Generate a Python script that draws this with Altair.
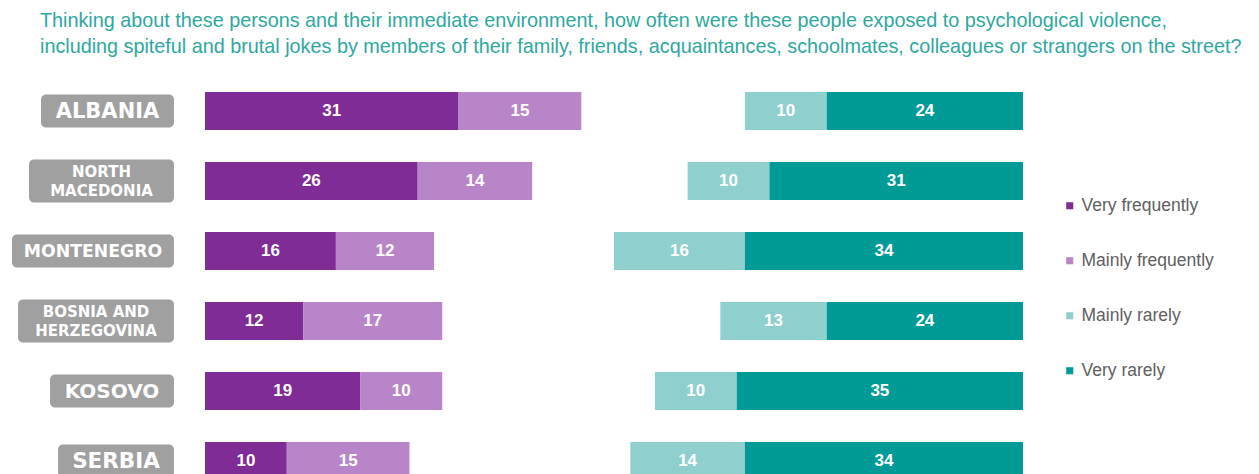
import altair as alt
import pandas as pd

# Survey answers (%) per country
countries = ["ALBANIA", "NORTH MACEDONIA", "MONTENEGRO",
             "BOSNIA AND HERZEGOVINA", "KOSOVO", "SERBIA"]
country_labels = ["ALBANIA", "NORTH\nMACEDONIA", "MONTENEGRO",
                  "BOSNIA AND\nHERZEGOVINA", "KOSOVO", "SERBIA"]
very_frequently = [31, 26, 16, 12, 19, 10]
mainly_frequently = [15, 14, 12, 17, 10, 15]
mainly_rarely = [10, 10, 16, 13, 10, 14]
very_rarely = [24, 31, 34, 24, 35, 34]

categories = ["Very frequently", "Mainly frequently", "Mainly rarely", "Very rarely"]
palette = ["#7f2c96", "#b886c8", "#8fd0cf", "#009b97"]

title_text = ("Thinking about these persons and their immediate environment, how often were these people "
              "exposed to psychological violence,\n"
              "including spiteful and brutal jokes by members of their family, friends, acquaintances, "
              "schoolmates, colleagues or strangers on the street?")

# Label badge styling (pixels)
badge_left = [41, 29, 12, 18, 50, 58]
badge_right = 174
badge_font = [21, 15, 17.3, 15, 20, 21.5]

FONT = "Liberation Sans"
WIDE = "DejaVu Sans"

# Frequent answers grow from the left edge, rare answers end at the right edge (0..100 axis)
rows = []
for i, c in enumerate(countries):
    vf, mf = very_frequently[i], mainly_frequently[i]
    mr, vr = mainly_rarely[i], very_rarely[i]
    rows.append(dict(country=c, category=categories[0], value=vf, start=0, end=vf))
    rows.append(dict(country=c, category=categories[1], value=mf, start=vf, end=vf + mf))
    rows.append(dict(country=c, category=categories[2], value=mr, start=100 - vr - mr, end=100 - vr))
    rows.append(dict(country=c, category=categories[3], value=vr, start=100 - vr, end=100))
seg = pd.DataFrame(rows)
seg["mid"] = (seg["start"] + seg["end"]) / 2

badges = pd.DataFrame({
    "country": countries,
    "label": country_labels,
    "x0": badge_left,
    "x1": [badge_right] * len(countries),
    "fs": badge_font,
    "two_line": ["\n" in s for s in country_labels],
})
badges["xm"] = (badges["x0"] + badges["x1"]) / 2

x_scale = alt.Scale(domain=[0, 100], range=[205, 1023])
y_enc = alt.Y("country:N", sort=countries, axis=None,
              scale=alt.Scale(range=[76, 496], paddingInner=0.46, paddingOuter=0.23))

base = alt.Chart(seg)

bars = base.mark_bar(cornerRadius=0).encode(
    x=alt.X("start:Q", scale=x_scale, axis=None),
    x2="end:Q",
    y=y_enc,
    color=alt.Color("category:N", sort=categories,
                    scale=alt.Scale(domain=categories, range=palette),
                    legend=alt.Legend(title=None, orient="none", legendX=1061, legendY=197,
                                      symbolType="square", symbolSize=50, symbolStrokeWidth=0,
                                      labelFontSize=17.5, labelFont=FONT, labelColor="#606060",
                                      rowPadding=36, labelOffset=3, labelLimit=300)),
)

values = base.mark_text(font=FONT, fontWeight="bold", fontSize=17, color="white",
                        baseline="middle").encode(
    x=alt.X("mid:Q", scale=x_scale, axis=None),
    y=y_enc,
    text="value:Q",
)

badge_base = alt.Chart(badges)
one_line = badge_base.transform_filter("!datum.two_line")
two_line = badge_base.transform_filter("datum.two_line")

badge_one = one_line.mark_bar(height=33, cornerRadius=5, color="#a0a0a0").encode(
    x=alt.X("x0:Q", scale=None), x2="x1:Q", y=y_enc)
badge_two = two_line.mark_bar(height=43, cornerRadius=5, color="#a0a0a0").encode(
    x=alt.X("x0:Q", scale=None), x2="x1:Q", y=y_enc)

text_enc = dict(x=alt.X("xm:Q", scale=None), y=y_enc, text="label:N",
                size=alt.Size("fs:Q", scale=None))
badge_text_one = one_line.mark_text(font=WIDE, fontWeight="bold", color="white",
                                    baseline="middle", dy=1).encode(**text_enc)
badge_text_two = two_line.mark_text(font=WIDE, fontWeight="bold", color="white",
                                    lineBreak="\n", lineHeight=19, baseline="middle",
                                    dy=-9).encode(**text_enc)

title = alt.Chart(pd.DataFrame({"t": [title_text]})).mark_text(
    font=FONT, fontSize=19.8, color="#2ea8a0", align="left", baseline="top",
    lineBreak="\n", lineHeight=26).encode(
    x=alt.value(40), y=alt.value(11), text="t:N")

chart = alt.layer(bars, values, badge_one, badge_two, badge_text_one, badge_text_two,
                  title).properties(
    width=1259, height=474, padding=0,
    autosize=alt.AutoSizeParams(type="none"),
    background="white",
).configure_view(strokeWidth=0)

chart.save("out.html", embed_options={"renderer": "svg", "actions": False})
